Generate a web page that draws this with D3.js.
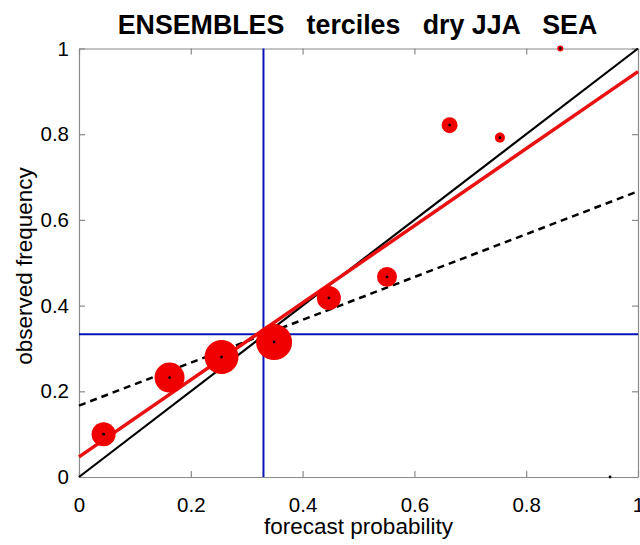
<!DOCTYPE html>
<html>
<head>
<meta charset="utf-8">
<script src="https://cdn.jsdelivr.net/npm/d3@7"></script>
<style>
  html, body { margin: 0; padding: 0; background: #fff; }
  svg { display: block; font-family: "Liberation Sans", Arial, sans-serif; }
</style>
</head>
<body>
<svg id="chart" width="640" height="545"></svg>
<script>
// Reliability diagram: mean forecast probability per bin vs observed frequency
const forecastProb = [0.044, 0.162, 0.255, 0.349, 0.447, 0.551, 0.663, 0.753, 0.861, 0.95];
const observedFreq = [0.100, 0.232, 0.280, 0.315, 0.418, 0.467, 0.821, 0.792, 1.000, 0.000];
// share of forecasts falling in each bin (sets marker area)
const binShare = [0.109, 0.170, 0.218, 0.245, 0.109, 0.075, 0.048, 0.019, 0.007, 0.0008];

const forecastClim = 0.33;      // climatological forecast probability
const observedClim = 1 / 3;     // climatological observed frequency
const regression = { intercept: 0.047, slope: 0.899 };
const tickValues = [0, 0.2, 0.4, 0.6, 0.8, 1];
const tickLabels = ["0", "0.2", "0.4", "0.6", "0.8", "1"];

const titleText = "ENSEMBLES   terciles   dry JJA   SEA";
const xTitle = "forecast probability";
const yTitle = "observed frequency";

const svg = d3.select("#chart");
const m = { left: 79, right: 638, top: 48.5, bottom: 477 };

const x = d3.scaleLinear().domain([0, 1]).range([m.left, m.right]);
const y = d3.scaleLinear().domain([0, 1]).range([m.bottom, m.top]);
const r = d3.scaleSqrt().domain([0, d3.max(binShare)]).range([0, 18]);

const fmt = d => tickLabels[tickValues.indexOf(d)];
const axisColor = "#8a8a8a";
const tickFont = 20.5;

function styleAxis(g, showLabels) {
  g.select(".domain").attr("stroke", axisColor).attr("stroke-width", 1.2);
  g.selectAll(".tick line").attr("stroke", axisColor).attr("stroke-width", 1.2);
  g.selectAll(".tick text")
    .attr("fill", "#000")
    .attr("font-size", tickFont)
    .style("display", showLabels ? null : "none");
}

// frame with inward ticks on all four sides
svg.append("g").attr("transform", `translate(0,${m.bottom})`)
  .call(d3.axisBottom(x).tickValues(tickValues).tickFormat(fmt).tickSizeInner(-6).tickSizeOuter(0).tickPadding(20))
  .call(g => styleAxis(g, true));
svg.append("g").attr("transform", `translate(0,${m.top})`)
  .call(d3.axisTop(x).tickValues(tickValues).tickSizeInner(-6).tickSizeOuter(0))
  .call(g => styleAxis(g, false));
svg.append("g").attr("transform", `translate(${m.left},0)`)
  .call(d3.axisLeft(y).tickValues(tickValues).tickFormat(fmt).tickSizeInner(-6).tickSizeOuter(0).tickPadding(10))
  .call(g => styleAxis(g, true));
svg.append("g").attr("transform", `translate(${m.right},0)`)
  .call(d3.axisRight(y).tickValues(tickValues).tickSizeInner(-6).tickSizeOuter(0))
  .call(g => styleAxis(g, false));

const plot = svg.append("g");

// climatology reference lines
plot.append("line")
  .attr("x1", x(forecastClim)).attr("x2", x(forecastClim))
  .attr("y1", y(0)).attr("y2", y(1))
  .attr("stroke", "#0a14b4").attr("stroke-width", 2);
plot.append("line")
  .attr("x1", x(0)).attr("x2", x(1))
  .attr("y1", y(observedClim)).attr("y2", y(observedClim))
  .attr("stroke", "#0a14b4").attr("stroke-width", 2);

const line = d3.line().x(d => x(d[0])).y(d => y(d[1]));

// perfect reliability diagonal
plot.append("path")
  .attr("d", line([[0, 0], [1, 1]]))
  .attr("fill", "none").attr("stroke", "#000").attr("stroke-width", 2.2);

// no-skill line, halfway between diagonal and climatology
plot.append("path")
  .attr("d", line([[0, observedClim / 2], [1, (1 + observedClim) / 2]]))
  .attr("fill", "none").attr("stroke", "#000").attr("stroke-width", 2.5)
  .attr("stroke-dasharray", "7,5");

// weighted regression fit
plot.append("path")
  .attr("d", line([[0, regression.intercept], [1, regression.intercept + regression.slope]]))
  .attr("fill", "none").attr("stroke", "#e81010").attr("stroke-width", 3.5);

const pts = forecastProb.map((p, i) => ({ p, o: observedFreq[i], s: binShare[i] }));

plot.selectAll("circle.bin").data(pts).join("circle")
  .attr("class", "bin")
  .attr("cx", d => x(d.p)).attr("cy", d => y(d.o))
  .attr("r", d => r(d.s))
  .attr("fill", "#f00000");

plot.selectAll("circle.centre").data(pts).join("circle")
  .attr("class", "centre")
  .attr("cx", d => x(d.p)).attr("cy", d => y(d.o))
  .attr("r", 1.4)
  .attr("fill", "#000");

// titles
svg.append("text")
  .attr("transform", "translate(357.5,33.5) scale(0.94,1)")
  .attr("text-anchor", "middle")
  .attr("font-size", 28.5).attr("font-weight", "bold")
  .style("white-space", "pre")
  .text(titleText);

svg.append("text")
  .attr("x", (m.left + m.right) / 2).attr("y", 534)
  .attr("text-anchor", "middle")
  .attr("font-size", 22.5)
  .text(xTitle);

svg.append("text")
  .attr("transform", `translate(32,266) rotate(-90)`)
  .attr("text-anchor", "middle")
  .attr("font-size", 22.5)
  .text(yTitle);
</script>
</body>
</html>
